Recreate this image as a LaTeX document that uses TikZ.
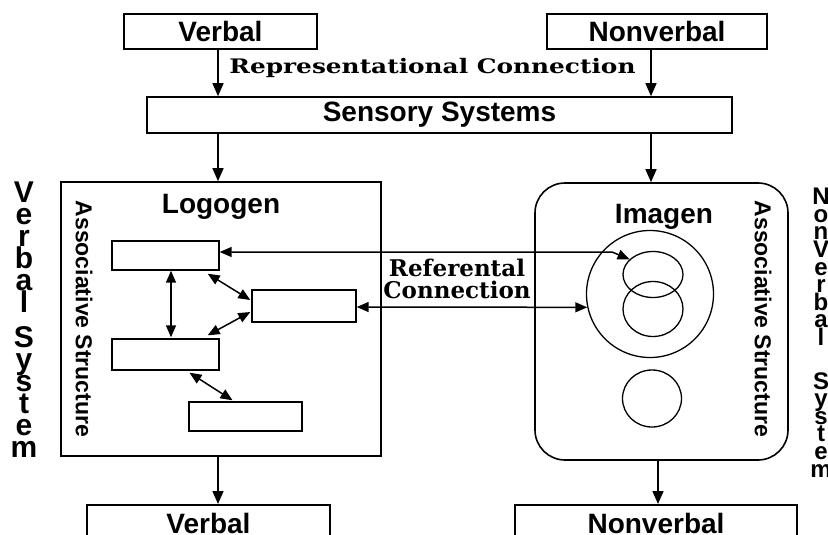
\documentclass[tikz,border=0pt]{standalone}
\usepackage{fontspec}
\usepackage{graphicx}
\usetikzlibrary{positioning, calc}
\usetikzlibrary{arrows.meta}
\usetikzlibrary{shapes.geometric}
\setmainfont{Liberation Sans}
\newfontfamily\slabfont{DejaVu Serif}
\newcommand\leftstackfont{\bfseries\fontsize{30}{22}\selectfont\lineskiplimit=-50pt\relax}
\newcommand\rightstackfont{\bfseries\fontsize{24}{17.6}\selectfont\lineskiplimit=-50pt\relax}
\tikzstyle{plainbox}=[rectangle,draw=black,line width=1.6pt,inner sep=0pt]
\tikzstyle{labelbox}=[plainbox,font=\bfseries\fontsize{28}{30}\selectfont]
\tikzstyle{wordbox}=[rectangle,draw=black,line width=1.4pt,inner sep=0pt]
\tikzstyle{blob}=[ellipse,draw=black,line width=1.3pt,inner sep=0pt]
\tikzstyle{titletext}=[font=\bfseries\fontsize{28}{30}\selectfont]
\tikzstyle{sidetext}=[font=\bfseries\fontsize{23}{25}\selectfont,rotate=-90]
\tikzstyle{stacktext}=[align=center,inner sep=0pt]
\tikzstyle{edgepath}=[-{Triangle[length=13pt,width=11pt]},line width=1.5pt]
\tikzstyle{twoway}=[{Triangle[length=12pt,width=10pt]}-{Triangle[length=12pt,width=10pt]},line width=1.5pt]

\begin{document}
\begin{tikzpicture}[x=1pt,y=-1pt]
    \useasboundingbox (0,0) rectangle (828,535);
    \clip (0,0) rectangle (828,535);

    % inputs and sensory systems
    \node[labelbox, minimum width=193pt, minimum height=35pt] (verbin) at (220.5,31.5) {Verbal};
    \node[labelbox, minimum width=220pt, minimum height=35pt] (nonverbin) at (657,31.5) {Nonverbal};
    \node[labelbox, minimum width=585pt, minimum height=36pt] (sensory) at (439.5,115) {Sensory Systems};
    \node[font=\slabfont\bfseries\fontsize{20}{22}\selectfont, anchor=base] (repr) at (432.5,74)
        {\scalebox{1.24}[1]{Representational Connection}};

    \coordinate (lcol) at (218,0);
    \coordinate (rcol) at (651,0);
    \coordinate (rout) at (658,0);

    % the two systems
    \node[plainbox, minimum width=320pt, minimum height=274pt] (logo) at (221,319) {};
    \node[plainbox, rounded corners=30pt, minimum width=253pt, minimum height=277pt] (imag) at (661.5,321.5) {};
    \node[titletext, anchor=base] (logotitle) at (221,213) {Logogen};
    \node[titletext, anchor=base] (imagtitle) at (664,223) {Imagen};
    \node[sidetext] (assocl) at (84,319) {Associative Structure};
    \node[sidetext] (assocr) at (763,319) {Associative Structure};

    \node[stacktext, anchor=north, font=\leftstackfont] (verbsys) at (24,182)
        {V\\e\\r\\b\\a\\l\\[13pt]S\\y\\s\\t\\e\\m};
    \node[stacktext, anchor=north, font=\rightstackfont] (nonverbsys) at (821,188)
        {N\\o\\n\\V\\e\\r\\b\\a\\l\\[26pt]S\\y\\s\\t\\e\\m};

    % logogens
    \node[wordbox, minimum width=107pt, minimum height=29pt] (wa) at (165.5,255.5) {};
    \node[wordbox, minimum width=104pt, minimum height=32pt] (wb) at (304,306) {};
    \node[wordbox, minimum width=107pt, minimum height=31pt] (wc) at (165.5,354.5) {};
    \node[wordbox, minimum width=113pt, minimum height=29pt] (wd) at (245.5,416.5) {};

    % imagens
    \node[blob, minimum size=127pt] (pool) at (650,294) {};
    \node[blob, minimum width=60pt, minimum height=46pt] (ia) at (653,274.5) {};
    \node[blob, minimum width=60pt, minimum height=55pt] (ib) at (653,309) {};
    \node[blob, minimum width=59pt, minimum height=57pt] (ic) at (652,398.5) {};

    \node[font=\slabfont\bfseries\fontsize{23}{22}\selectfont, align=center] (reflab) at (457,279) {Referental\\Connection};

    % outputs
    \node[labelbox, anchor=north, minimum width=243pt, inner ysep=8pt] (verbout) at (208.5,504) {Verbal};
    \node[labelbox, anchor=north, minimum width=282pt, inner ysep=8pt] (nonverbout) at (656,504) {Nonverbal};

    \path[edgepath]
        (lcol |- verbin.south) edge (lcol |- sensory.north)
        (rcol |- nonverbin.south) edge (rcol |- sensory.north)
        (lcol |- sensory.south) edge (lcol |- logo.north)
        (rcol |- sensory.south) edge (rcol |- imag.north)
        (lcol |- logo.south) edge (lcol |- verbout.north)
        (rout |- imag.south) edge (rout |- nonverbout.north);

    \path[twoway]
        ([shift={(5.5,0)}]wa.south) edge ([shift={(5.5,-1)}]wc.north)
        ([shift={(-12,3)}]wa.south east) edge ([shift={(-1,-6)}]wb.west)
        ([shift={(-1,6)}]wb.west) edge ([shift={(-12,-3)}]wc.north east)
        ([shift={(24,2)}]wc.south) edge ([shift={(-13,-1)}]wd.north);

    \coordinate (kink) at (612,252);
    \draw[twoway] ([shift={(0,-3.5)}]wa.east) -- (kink) -- (ia.147);
    \draw[twoway] ([shift={(0,1)}]wb.east) -- (pool.192);
\end{tikzpicture}
\end{document}
